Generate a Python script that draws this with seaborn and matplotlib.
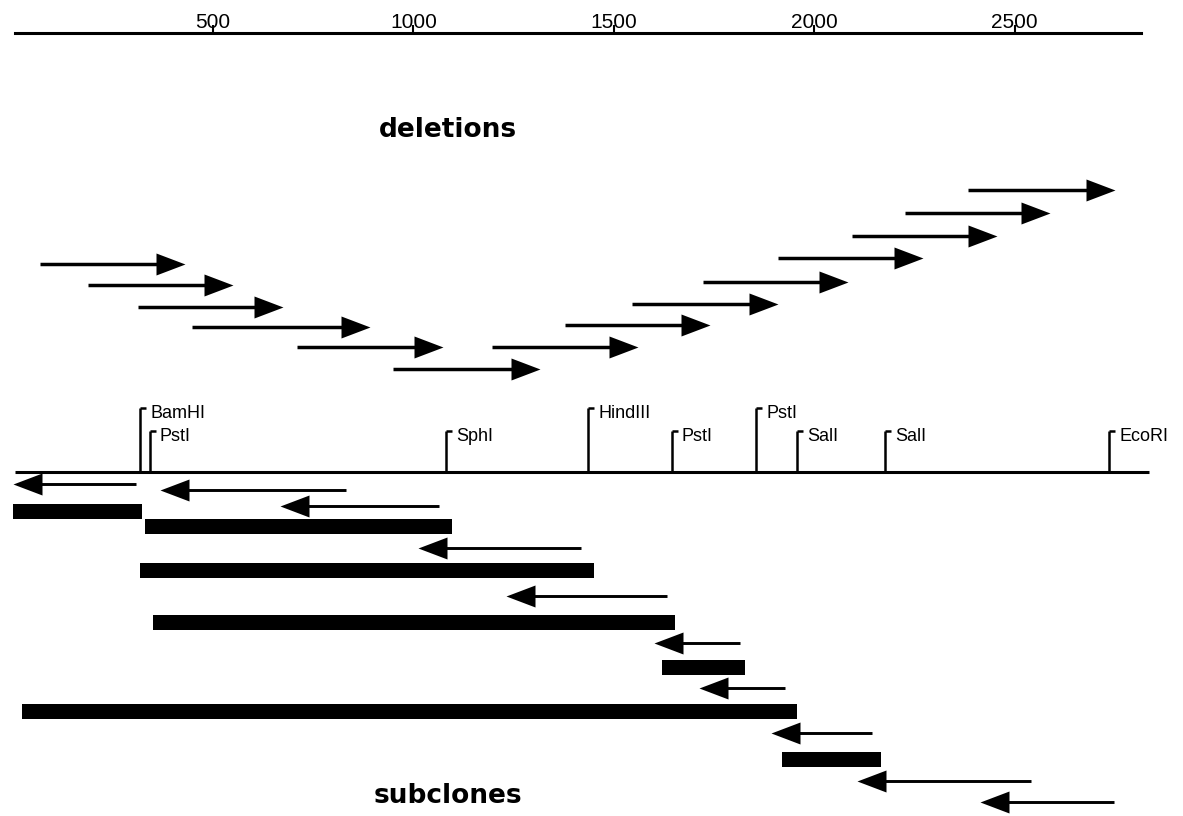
import numpy as np
import pandas as pd
import matplotlib
matplotlib.use("Agg")
import matplotlib.pyplot as plt
from matplotlib.markers import MarkerStyle
import seaborn as sns

# ruler (bp)
ruler_ticks = [500, 1000, 1500, 2000, 2500]
ruler_span = (6, 2815)
map_span = (6, 2835)

# restriction sites
site_names = ["BamHI", "PstI", "SphI", "HindIII", "PstI", "PstI", "SalI", "SalI", "EcoRI"]
site_pos = [318, 342, 1081, 1436, 1645, 1855, 1957, 2177, 2736]
site_tall = [True, False, False, True, False, True, False, False, False]

# deletion clones (forward arrows)
del_start = [68, 188, 313, 448, 710, 949, 1196, 1379, 1546, 1723, 1910, 2094, 2226, 2384]
del_end = [430, 550, 675, 892, 1074, 1316, 1560, 1740, 1910, 2084, 2271, 2456, 2588, 2751]

# subclone reads (reverse arrows): tip -> tail
sub_tip = [0, 368, 667, 1012, 1231, 1600, 1713, 1892, 2107, 2414]
sub_tail = [308, 832, 1064, 1418, 1633, 1815, 1927, 2144, 2541, 2748]

# subclone inserts (bars)
bar_start = [2, 330, 318, 350, 23, 1620, 1920]
bar_end = [322, 1096, 1451, 1653, 1957, 1828, 2167]

# layout: vertical lanes (pixel rows from top)
del_lane = [264, 285, 307, 327, 347, 369, 347, 325, 304, 282, 258, 236, 213, 190]
sub_lane = [484, 490, 506, 548, 596, 643, 688, 733, 781, 802]
bar_lane = [512, 527, 571, 623, 712, 668, 760]
map_y = 472

sns.set_style("white")
plt.rcParams["font.family"] = ["Liberation Sans", "DejaVu Sans"]
plt.rcParams["text.color"] = "black"
plt.rcParams["xtick.color"] = "black"
plt.rcParams["xtick.labelcolor"] = "black"

W, H = 1183, 816
fig = plt.figure(figsize=(W / 100, H / 100), dpi=100)
ax = fig.add_axes([0, 0, 1, (H - 33) / H])
px_per_bp = 0.4008
x0 = -12.6 / px_per_bp
ax.set_xlim(x0, x0 + W / px_per_bp)
ax.set_ylim(H, 33)

for s in ["left", "right", "bottom"]:
    ax.spines[s].set_visible(False)
ax.spines["top"].set_bounds(*ruler_span)
ax.spines["top"].set_linewidth(2.2)
ax.spines["top"].set_color("black")
ax.xaxis.tick_top()
ax.set_xticks(ruler_ticks)
ax.set_yticks([])
ax.tick_params(axis="x", direction="out", length=6, width=1.5, pad=-5, labelsize=15,
               colors="black")

bp = lambda px: px / px_per_bp
head_len = 29

# deletions
ax.hlines(del_lane, del_start, np.array(del_end) - bp(head_len) * 0.5, color="k", lw=2.5)
right_head = MarkerStyle([(0, 0), (-29, 11), (-29, -11), (0, 0)])
sns.scatterplot(x=del_end, y=del_lane, marker=right_head, s=(2 * head_len * 0.72) ** 2,
                color="k", linewidth=0, ax=ax, legend=False)

# restriction map
ax.hlines(map_y, *map_span, color="k", lw=2.2)
for name, pos, tall in zip(site_names, site_pos, site_tall):
    top = 408 if tall else 431
    ax.vlines(pos, top, map_y, color="k", lw=1.8)
    ax.hlines(top, pos, pos + bp(6), color="k", lw=1.8)
    ax.text(pos + bp(10), top + 6, name, fontsize=13, color="black", ha="left", va="center")

# subclone reads
ax.hlines(sub_lane, np.array(sub_tip) + bp(head_len) * 0.5, sub_tail, color="k", lw=2.1)
left_head = MarkerStyle([(0, 0), (29, 11), (29, -11), (0, 0)])
sns.scatterplot(x=sub_tip, y=sub_lane, marker=left_head, s=(2 * head_len * 0.72) ** 2,
                color="k", linewidth=0, ax=ax, legend=False)

# subclone inserts
ax.barh(bar_lane, np.array(bar_end) - np.array(bar_start), left=bar_start, height=15,
        color="k", edgecolor="none")

ax.text(1086, 130, "deletions", fontsize=19, fontweight="bold", family="DejaVu Sans",
        color="black", ha="center", va="center")
ax.text(1086, 796, "subclones", fontsize=19, fontweight="bold", family="DejaVu Sans",
        color="black", ha="center", va="center")

fig.savefig("out.png", dpi=100)
